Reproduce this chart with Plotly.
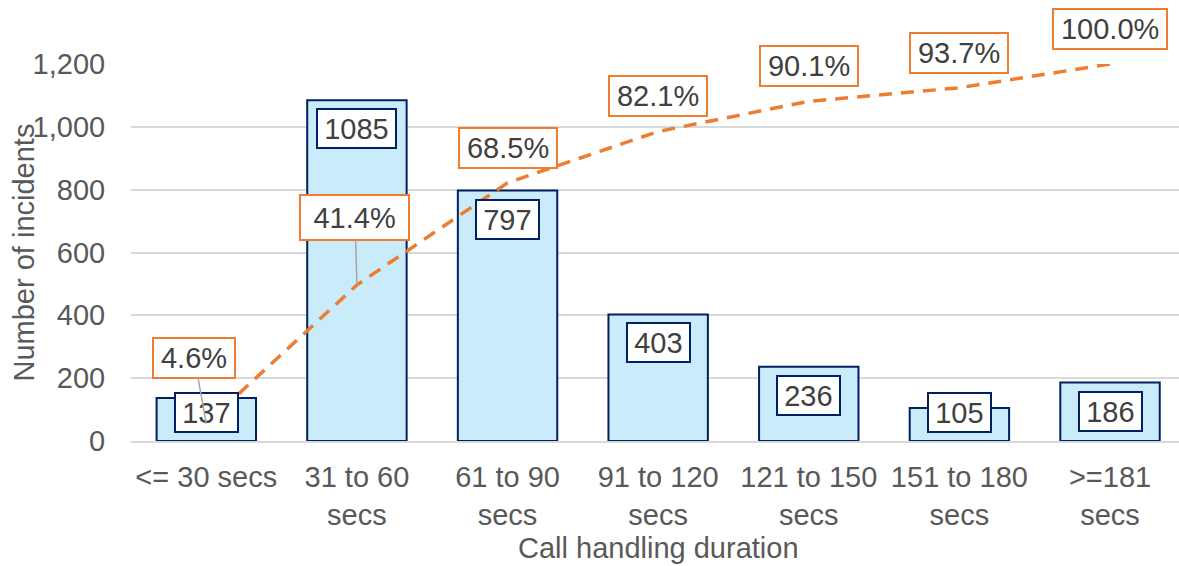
import plotly.graph_objects as go

# Call handling duration bands and incident counts
categories = ["<= 30 secs", "31 to 60<br>secs", "61 to 90<br>secs", "91 to 120<br>secs",
              "121 to 150<br>secs", "151 to 180<br>secs", ">=181<br>secs"]
incidents = [137, 1085, 797, 403, 236, 105, 186]
# Cumulative share of incidents (%)
cumulative_pct = [4.6, 41.4, 68.5, 82.1, 90.1, 93.7, 100.0]
y_ticks = [0, 200, 400, 600, 800, 1000, 1200]

FONT = "Liberation Sans, Arial, sans-serif"
FS = 29
GREY_TXT = "#595959"
LABEL_TXT = "#404040"
NAVY = "#002060"
ORANGE = "#ED7D31"
BAR_FILL = "#CAEBFA"

W, H = 1179, 566
M_L, M_R, M_T, M_B = 131, 0, 64, 125
Y_MAX = 1200
PX_PER_UNIT = (H - M_T - M_B) / Y_MAX

# Arial advance widths (em) for the characters used in the labels
ADV = {".": 0.278, "%": 0.889, ",": 0.278}


def text_width(s):
    return sum(ADV.get(c, 0.556) for c in s) * FS


x_idx = list(range(len(categories)))

fig = go.Figure()
fig.add_trace(go.Bar(
    x=x_idx, y=incidents, width=0.66,
    marker=dict(color=BAR_FILL, line=dict(color=NAVY, width=2)),
    hoverinfo="skip", showlegend=False,
))
fig.add_trace(go.Scatter(
    x=x_idx, y=cumulative_pct, yaxis="y2", mode="lines",
    line=dict(color=ORANGE, width=3.5, dash="13px,9px"),
    hoverinfo="skip", showlegend=False,
))

annotations = []

# Count labels: boxed, just inside the top of each bar (kept clear of the axis)
COUNT_H = 37
min_label_val = (COUNT_H + 4 + 16) / PX_PER_UNIT
for i, v in enumerate(incidents):
    s = str(v)
    annotations.append(dict(
        x=i, y=max(v, min_label_val), xref="x", yref="y",
        text=s, showarrow=False, xanchor="center", yanchor="top", yshift=-8,
        width=text_width(s) + 12.5, height=COUNT_H, borderpad=0,
        bgcolor="white", bordercolor=NAVY, borderwidth=2,
        font=dict(family=FONT, size=FS, color=LABEL_TXT),
    ))

# Cumulative labels; the first two are pulled up with leader lines
leader_offsets = {0: (-12, -66), 1: (-2, -67)}
box_extra = {1: (11, 5)}
for i, p in enumerate(cumulative_pct):
    s = f"{p:.1f}%"
    ew, eh = box_extra.get(i, (0, 0))
    ann = dict(
        x=i, y=p, xref="x", yref="y2", text=s,
        xanchor="center", yanchor="middle",
        width=text_width(s) + 14 + ew, height=38 + eh, borderpad=0,
        bgcolor="white", bordercolor=ORANGE, borderwidth=2,
        font=dict(family=FONT, size=FS, color=LABEL_TXT),
    )
    if i in leader_offsets:
        ax, ay = leader_offsets[i]
        ann.update(showarrow=True, ax=ax, ay=ay, arrowhead=0,
                   arrowwidth=1.5, arrowcolor="#A6A6A6", standoff=0)
    else:
        ann.update(showarrow=False, yshift=35)
    annotations.append(ann)

# Axis titles
annotations.append(dict(
    x=0, y=0.5, xref="paper", yref="paper", text="Number of incidents",
    textangle=-90, showarrow=False, xanchor="center", yanchor="middle",
    xshift=-108, font=dict(family=FONT, size=FS, color=GREY_TXT),
))
annotations.append(dict(
    x=3, y=0, xref="x", yref="paper", text="Call handling duration",
    showarrow=False, xanchor="center", yanchor="middle",
    yshift=-(548 - (H - M_B)), font=dict(family=FONT, size=FS, color=GREY_TXT),
))

fig.update_layout(
    width=W, height=H,
    margin=dict(l=M_L, r=M_R, t=M_T, b=M_B, pad=0),
    paper_bgcolor="white", plot_bgcolor="white",
    font=dict(family=FONT, size=FS, color=GREY_TXT),
    xaxis=dict(
        range=[-0.5, 6.458], tickmode="array", tickvals=x_idx, ticktext=categories,
        showgrid=False, zeroline=False, showline=True, linecolor="#D9D9D9", linewidth=2,
        ticks="outside", ticklen=9, tickcolor="rgba(0,0,0,0)",
        tickfont=dict(family=FONT, size=FS, color=GREY_TXT), layer="above traces",
    ),
    yaxis=dict(
        range=[0, Y_MAX], tickmode="array", tickvals=y_ticks,
        ticktext=[f"{t:,}" for t in y_ticks],
        showgrid=True, gridcolor="#D9D9D9", gridwidth=1.5, zeroline=False,
        showline=False, ticks="outside", ticklen=19, tickcolor="rgba(0,0,0,0)",
        tickfont=dict(family=FONT, size=FS, color=GREY_TXT),
    ),
    yaxis2=dict(range=[0, 100], overlaying="y", side="right", visible=False),
    annotations=annotations,
)

fig.write_html("out.html")
